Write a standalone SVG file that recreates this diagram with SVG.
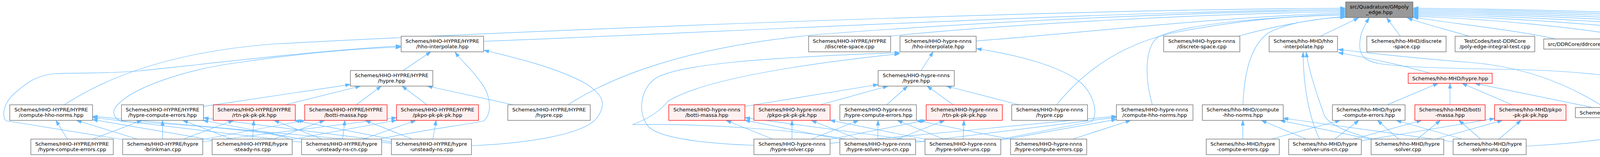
<svg xmlns="http://www.w3.org/2000/svg" width="5805" height="403" viewBox="0 0 5805 403">
<style>
.n rect{fill:#ffffff;stroke:#666666;stroke-width:1.3}
.r rect{fill:#fff0f0;stroke:#ff0000;stroke-width:1.3}
.g rect{fill:#999999;stroke:#666666;stroke-width:1.3}
text{font-family:"DejaVu Sans","Liberation Sans",Arial,sans-serif;font-size:13px;text-anchor:middle;fill:#000000}
#edges path{fill:none;stroke:#63b8ff;stroke-width:1.2;marker-end:url(#a)}
</style>
<defs>
<marker id="a" markerWidth="14" markerHeight="10" refX="13" refY="4.7" orient="auto" markerUnits="userSpaceOnUse">
<path d="M0,0.3 L13,4.7 L0,9.1 z" fill="#63b8ff" stroke="#63b8ff" stroke-width="1"/>
</marker>
</defs>
<rect width="5805" height="403" fill="#ffffff"/>
<g id="edges">
<path d="M172.4,357 L143.1,309"/>
<path d="M237.1,357 L363.4,309"/>
<path d="M351.7,357 L195.8,309"/>
<path d="M416.4,357 L416.1,309"/>
<path d="M469.7,357 L597.8,309"/>
<path d="M519,358 L780,309"/>
<path d="M519,364 L1015,302"/>
<path d="M543,359.5 L237,307"/>
<path d="M593.4,357 L468.1,309"/>
<path d="M646.7,357 L649.8,309"/>
<path d="M700,357 L831,309"/>
<path d="M748,358 L1015,308.5"/>
<path d="M772,365 L237,301.5"/>
<path d="M772,357.3 L520.1,309"/>
<path d="M823.8,357 L701.7,309"/>
<path d="M877,357 L883,309"/>
<path d="M930.2,357 L1064.3,309"/>
<path d="M1002,367.7 L237,298.6"/>
<path d="M1002,363.9 L521,302.4"/>
<path d="M1002,357.1 L753.9,309"/>
<path d="M1054.8,357 L935.2,309"/>
<path d="M1108,357 L1116.5,309"/>
<path d="M521,273.2 L897,216.8"/>
<path d="M730.8,269 L922.7,221"/>
<path d="M912.1,269 L975.9,221"/>
<path d="M1093.3,269 L1029.2,221"/>
<path d="M1314,269 L1094,221"/>
<path d="M1032,181 L1103,133"/>
<path d="M313,358 L15,310 C3,295 10,260 45,233 C70,212 90,195 140,189 C200,186 260,190 357,182 C480,170 800,130 1026,118"/>
<path d="M740,357 C720,340 500,320 313,312 C290,305 285,285 300,270 C340,225 470,180 600,162 C750,140 900,125 1026,121"/>
<path d="M971,357 C1100,330 1200,320 1239,310 C1262,290 1255,240 1230,210 C1210,180 1185,160 1165,134"/>
<path d="M1207,374 C1350,368 1500,345 1530,300 C1555,265 1540,240 1500,215 C1430,175 1320,148 1239,129"/>
<path d="M165,269 C300,180 480,130 700,113 C1300,80 2700,24 3444,21"/>
<path d="M1238,106 C1800,85 2800,30 3444,24"/>
<path d="M1454,269 C1560,200 1750,120 2100,88 C2600,50 3100,30 3444,27"/>
<path d="M2276,93 C2600,60 3100,35 3444,30"/>
<path d="M2746.1,357 L2894.4,309"/>
<path d="M2587,357.3 L2346,309"/>
<path d="M2125,367.8 L2858,298.3"/>
<path d="M2077.6,357 L2197.9,309"/>
<path d="M1978,357 L1859,309"/>
<path d="M2027.5,357 L2027.5,309"/>
<path d="M2125,357.5 L2371,308.5"/>
<path d="M2344,365 L2858,301.2"/>
<path d="M2247.2,357 L2247.8,309"/>
<path d="M2150,357.5 L1907,308.6"/>
<path d="M2197.2,357 L2077.3,309"/>
<path d="M2297.3,357 L2418.2,309"/>
<path d="M2562,359.6 L2858,306.6"/>
<path d="M2415.7,357 L2297.3,309"/>
<path d="M2368,364 L1907,302.1"/>
<path d="M2368,357.5 L2125,308.6"/>
<path d="M2465.8,357 L2467.7,309"/>
<path d="M1907,273 L2248,217"/>
<path d="M2099.7,269 L2273.3,221"/>
<path d="M2270.1,269 L2323.4,221"/>
<path d="M2440.6,269 L2373.4,221"/>
<path d="M2609.5,269 L2423,221"/>
<path d="M2358.2,181 L2388.8,133"/>
<path d="M1930,373 C1800,368 1690,355 1660,325 C1630,290 1640,225 1680,200 C1740,165 1950,148 2303,135"/>
<path d="M2165,357 C2050,335 1800,316 1619,320 C1660,305 1690,285 1710,260 C1790,210 2000,170 2303,138"/>
<path d="M2562,357 L2795,312 C2812,290 2800,245 2770,215 C2720,170 2600,140 2500,125"/>
<path d="M2499,105 C2800,82 3100,45 3444,33"/>
<path d="M2705,269 C2760,200 2850,120 3000,85 C3150,55 3300,40 3444,36"/>
<path d="M2950,269 C2930,200 2930,120 2965,95 C3030,62 3250,42 3444,39"/>
<path d="M3170,93 C3250,70 3350,50 3444,42"/>
<path d="M3181.5,357 L3181.5,309"/>
<path d="M3254.7,357 L3430.8,309"/>
<path d="M3344.2,357 L3229.3,309"/>
<path d="M3417.4,357 L3478.6,309"/>
<path d="M3464.6,357 L3639.4,309"/>
<path d="M3485,361.4 L3826,304.3"/>
<path d="M3510,357.6 L3277.2,309"/>
<path d="M3580.5,357 L3526.5,309"/>
<path d="M3627.7,357 L3687.3,309"/>
<path d="M3674.4,357 L3846.1,309"/>
<path d="M3720,364 L3285,303.4"/>
<path d="M3743.2,357 L3574.3,309"/>
<path d="M3790.5,357 L3735,309"/>
<path d="M3837.1,357 L3893.9,309"/>
<path d="M3551.3,269 L3681.6,214"/>
<path d="M3712,269 L3712,214"/>
<path d="M3871,269 L3742.8,214"/>
<path d="M4077.2,276 L3775.8,214"/>
<path d="M3661,188 C3600,170 3520,152 3426,135"/>
<path d="M4108,276 C3990,200 3870,168 3760,160 C3600,148 3500,135 3426,127"/>
<path d="M3907,375 C4050,368 4180,350 4230,330 C4275,305 4275,255 4240,225 C4200,195 4000,180 3857,178 C3720,176 3580,172 3530,163 C3490,155 3482,140 3481,120 C3480,90 3490,70 3505,46"/>
<path d="M3378,357 C3355,310 3336,230 3336,134"/>
<path d="M3515,357 C3450,340 3400,320 3390,295 C3370,240 3350,180 3344,134"/>
<path d="M3182,269 C3185,190 3200,120 3246,85 C3300,55 3390,46 3444,44"/>
<path d="M3380,93 L3478,46"/>
<path d="M3585,93 L3550,46"/>
<path d="M3761,93 C3700,75 3640,60 3603,46"/>
<path d="M3982,100 C3900,80 3700,58 3618,44"/>
<path d="M4196,100 C4052,70 3792,47 3618,42"/>
<path d="M4421,100 C4220,70 3860,44 3618,39"/>
<path d="M4626,100 C4374,70 3921,41 3618,36"/>
<path d="M4823,100 C4522,70 3980,38 3618,33"/>
<path d="M5018,100 C4668,70 4039,35 3618,30"/>
<path d="M5212,100 C4814,70 4097,32 3618,27"/>
<path d="M5437,100 C4982,70 4164,29 3618,24"/>
<path d="M5630,93 C5127,70 4222,26 3618,21"/>
</g>
<g id="G" class="g"><rect x="3445" y="5" width="172" height="40"/><text x="3531" y="21.5">src/Quadrature/GMpoly</text><text x="3531" y="36">_edge.hpp</text></g>
<g id="H_interp" class="n"><rect x="1027" y="93" width="211" height="40"/><text x="1132.5" y="109.5">Schemes/HHO-HYPRE/HYPRE</text><text x="1132.5" y="124">/hho-interpolate.hpp</text></g>
<g id="H_disc" class="n"><rect x="2070" y="93" width="210" height="40"/><text x="2175" y="109.5">Schemes/HHO-HYPRE/HYPRE</text><text x="2175" y="124">/discrete-space.cpp</text></g>
<g id="N_interp" class="n"><rect x="2304" y="93" width="195" height="40"/><text x="2401.5" y="109.5">Schemes/HHO-hypre-nnns</text><text x="2401.5" y="124">/hho-interpolate.hpp</text></g>
<g id="N_disc" class="n"><rect x="2979" y="93" width="195" height="40"/><text x="3076.5" y="109.5">Schemes/HHO-hypre-nnns</text><text x="3076.5" y="124">/discrete-space.cpp</text></g>
<g id="M_interp" class="n"><rect x="3249" y="93" width="175" height="40"/><text x="3336.5" y="109.5">Schemes/hho-MHD/hho</text><text x="3336.5" y="124">-interpolate.hpp</text></g>
<g id="M_disc" class="n"><rect x="3499" y="93" width="203" height="40"/><text x="3600.5" y="109.5">Schemes/hho-MHD/discrete</text><text x="3600.5" y="124">-space.cpp</text></g>
<g id="T_poly" class="n"><rect x="3725" y="93" width="204" height="40"/><text x="3827" y="109.5">TestCodes/test-DDRCore</text><text x="3827" y="124">/poly-edge-integral-test.cpp</text></g>
<g id="ddrcore" class="n"><rect x="3952" y="100" width="184" height="26"/><text x="4044" y="117.5">src/DDRCore/ddrcore.cpp</text></g>
<g id="platescore" class="n"><rect x="4160" y="100" width="203" height="26"/><text x="4261.5" y="117.5">src/DDRCore/platescore.cpp</text></g>
<g id="xdivdiv" class="n"><rect x="4387" y="100" width="184" height="26"/><text x="4479" y="117.5">src/DDRCore/xdivdiv.cpp</text></g>
<g id="xgrad" class="n"><rect x="4594" y="100" width="172" height="26"/><text x="4680" y="117.5">src/DDRCore/xgrad.cpp</text></g>
<g id="xhess" class="n"><rect x="4791" y="100" width="174" height="26"/><text x="4878" y="117.5">src/DDRCore/xhess.cpp</text></g>
<g id="xrot" class="n"><rect x="4988" y="100" width="162" height="26"/><text x="5069" y="117.5">src/DDRCore/xrot.cpp</text></g>
<g id="hhospace" class="n"><rect x="5174" y="100" width="199" height="26"/><text x="5273.5" y="117.5">src/HHOCore/hhospace.cpp</text></g>
<g id="vhhospace" class="n"><rect x="5396" y="100" width="207" height="26"/><text x="5499.5" y="117.5">src/HHOCore/vhhospace.cpp</text></g>
<g id="GMcpp" class="n"><rect x="5628" y="93" width="171" height="40"/><text x="5713.5" y="109.5">src/Quadrature/GMpoly</text><text x="5713.5" y="124">_edge.cpp</text></g>
<g id="H_hypre" class="n"><rect x="897" y="181" width="211" height="40"/><text x="1002.5" y="197.5">Schemes/HHO-HYPRE/HYPRE</text><text x="1002.5" y="212">/hypre.hpp</text></g>
<g id="N_hypre" class="n"><rect x="2248" y="181" width="195" height="40"/><text x="2345.5" y="197.5">Schemes/HHO-hypre-nnns</text><text x="2345.5" y="212">/hypre.hpp</text></g>
<g id="M_hypre" class="r"><rect x="3605" y="188" width="215" height="26"/><text x="3712.5" y="205.5">Schemes/hho-MHD/hypre.hpp</text></g>
<g id="H_norms" class="n"><rect x="25" y="269" width="212" height="40"/><text x="131" y="285.5">Schemes/HHO-HYPRE/HYPRE</text><text x="131" y="300">/compute-hho-norms.hpp</text></g>
<g id="H_errh" class="n"><rect x="311" y="269" width="210" height="40"/><text x="416" y="285.5">Schemes/HHO-HYPRE/HYPRE</text><text x="416" y="300">/hypre-compute-errors.hpp</text></g>
<g id="H_rtn" class="r"><rect x="546" y="269" width="210" height="40"/><text x="651" y="285.5">Schemes/HHO-HYPRE/HYPRE</text><text x="651" y="300">/rtn-pk-pk-pk.hpp</text></g>
<g id="H_botti" class="r"><rect x="780" y="269" width="211" height="40"/><text x="885.5" y="285.5">Schemes/HHO-HYPRE/HYPRE</text><text x="885.5" y="300">/botti-massa.hpp</text></g>
<g id="H_pkpo" class="r"><rect x="1015" y="269" width="210" height="40"/><text x="1120" y="285.5">Schemes/HHO-HYPRE/HYPRE</text><text x="1120" y="300">/pkpo-pk-pk-pk.hpp</text></g>
<g id="H_cpp" class="n"><rect x="1300" y="269" width="211" height="40"/><text x="1405.5" y="285.5">Schemes/HHO-HYPRE/HYPRE</text><text x="1405.5" y="300">/hypre.cpp</text></g>
<g id="N_botti" class="r"><rect x="1712" y="269" width="195" height="40"/><text x="1809.5" y="285.5">Schemes/HHO-hypre-nnns</text><text x="1809.5" y="300">/botti-massa.hpp</text></g>
<g id="N_pkpo" class="r"><rect x="1930" y="269" width="195" height="40"/><text x="2027.5" y="285.5">Schemes/HHO-hypre-nnns</text><text x="2027.5" y="300">/pkpo-pk-pk-pk.hpp</text></g>
<g id="N_errh" class="n"><rect x="2150" y="269" width="196" height="40"/><text x="2248" y="285.5">Schemes/HHO-hypre-nnns</text><text x="2248" y="300">/hypre-compute-errors.hpp</text></g>
<g id="N_rtn" class="r"><rect x="2371" y="269" width="195" height="40"/><text x="2468.5" y="285.5">Schemes/HHO-hypre-nnns</text><text x="2468.5" y="300">/rtn-pk-pk-pk.hpp</text></g>
<g id="N_cpp" class="n"><rect x="2590" y="269" width="194" height="40"/><text x="2687" y="285.5">Schemes/HHO-hypre-nnns</text><text x="2687" y="300">/hypre.cpp</text></g>
<g id="N_norms" class="n"><rect x="2858" y="269" width="196" height="40"/><text x="2956" y="285.5">Schemes/HHO-hypre-nnns</text><text x="2956" y="300">/compute-hho-norms.hpp</text></g>
<g id="M_norms" class="n"><rect x="3078" y="269" width="207" height="40"/><text x="3181.5" y="285.5">Schemes/hho-MHD/compute</text><text x="3181.5" y="300">-hho-norms.hpp</text></g>
<g id="M_errh" class="n"><rect x="3411" y="269" width="186" height="40"/><text x="3504" y="285.5">Schemes/hho-MHD/hypre</text><text x="3504" y="300">-compute-errors.hpp</text></g>
<g id="M_botti" class="r"><rect x="3622" y="269" width="180" height="40"/><text x="3712" y="285.5">Schemes/hho-MHD/botti</text><text x="3712" y="300">-massa.hpp</text></g>
<g id="M_pkpo" class="r"><rect x="3826" y="269" width="183" height="40"/><text x="3917.5" y="285.5">Schemes/hho-MHD/pkpo</text><text x="3917.5" y="300">-pk-pk-pk.hpp</text></g>
<g id="M_cpp" class="n"><rect x="4033" y="276" width="215" height="26"/><text x="4140.5" y="293.5">Schemes/hho-MHD/hypre.cpp</text></g>
<g id="H_errc" class="n"><rect x="79" y="357" width="211" height="40"/><text x="184.5" y="373.5">Schemes/HHO-HYPRE/HYPRE</text><text x="184.5" y="388">/hypre-compute-errors.cpp</text></g>
<g id="H_brink" class="n"><rect x="314" y="357" width="205" height="40"/><text x="416.5" y="373.5">Schemes/HHO-HYPRE/hypre</text><text x="416.5" y="388">-brinkman.cpp</text></g>
<g id="H_steady" class="n"><rect x="543" y="357" width="205" height="40"/><text x="645.5" y="373.5">Schemes/HHO-HYPRE/hypre</text><text x="645.5" y="388">-steady-ns.cpp</text></g>
<g id="H_unscn" class="n"><rect x="772" y="357" width="205" height="40"/><text x="874.5" y="373.5">Schemes/HHO-HYPRE/hypre</text><text x="874.5" y="388">-unsteady-ns-cn.cpp</text></g>
<g id="H_uns" class="n"><rect x="1002" y="357" width="205" height="40"/><text x="1104.5" y="373.5">Schemes/HHO-HYPRE/hypre</text><text x="1104.5" y="388">-unsteady-ns.cpp</text></g>
<g id="N_solver" class="n"><rect x="1930" y="357" width="195" height="40"/><text x="2027.5" y="373.5">Schemes/HHO-hypre-nnns</text><text x="2027.5" y="388">/hypre-solver.cpp</text></g>
<g id="N_unscn" class="n"><rect x="2150" y="357" width="194" height="40"/><text x="2247" y="373.5">Schemes/HHO-hypre-nnns</text><text x="2247" y="388">/hypre-solver-uns-cn.cpp</text></g>
<g id="N_uns" class="n"><rect x="2368" y="357" width="194" height="40"/><text x="2465" y="373.5">Schemes/HHO-hypre-nnns</text><text x="2465" y="388">/hypre-solver-uns.cpp</text></g>
<g id="N_errc" class="n"><rect x="2587" y="357" width="195" height="40"/><text x="2684.5" y="373.5">Schemes/HHO-hypre-nnns</text><text x="2684.5" y="388">/hypre-compute-errors.cpp</text></g>
<g id="M_errc" class="n"><rect x="3088" y="357" width="187" height="40"/><text x="3181.5" y="373.5">Schemes/hho-MHD/hypre</text><text x="3181.5" y="388">-compute-errors.cpp</text></g>
<g id="M_unscn" class="n"><rect x="3299" y="357" width="186" height="40"/><text x="3392" y="373.5">Schemes/hho-MHD/hypre</text><text x="3392" y="388">-solver-uns-cn.cpp</text></g>
<g id="M_solver" class="n"><rect x="3510" y="357" width="186" height="40"/><text x="3603" y="373.5">Schemes/hho-MHD/hypre</text><text x="3603" y="388">-solver.cpp</text></g>
<g id="M_uns" class="n"><rect x="3720" y="357" width="187" height="40"/><text x="3813.5" y="373.5">Schemes/hho-MHD/hypre</text><text x="3813.5" y="388">-solver-uns.cpp</text></g>
</svg>
